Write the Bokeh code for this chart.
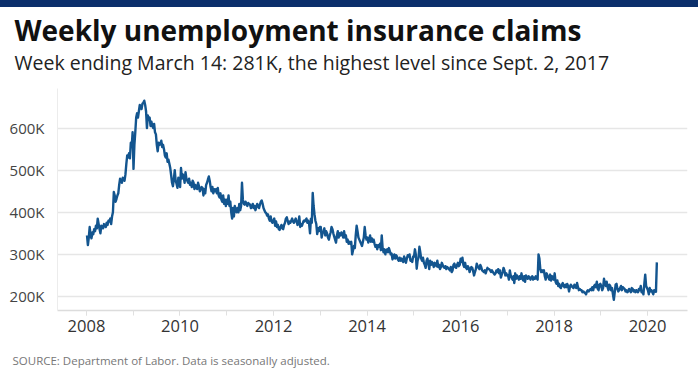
import pandas as pd
from bokeh.plotting import figure
from bokeh.models import FixedTicker, Title, Range1d
from bokeh.embed import file_html
from bokeh.resources import INLINE

# Weekly initial claims (thousands), week ending Saturday, from 2008-01-05
claims_2008 = [345, 322, 340, 365, 345, 338, 352, 348, 360, 355, 368, 362, 385,
               372, 360, 350, 368, 365, 362, 372, 368, 365, 375, 370, 380, 378,
               385, 372, 390, 400, 448, 440, 425, 432, 440, 445, 465, 480, 475,
               470, 482, 478, 475, 490, 515, 535, 530, 540, 528, 565, 555, 590]
claims_2009 = [503, 560, 590, 625, 635, 625, 640, 655, 652, 645, 658, 660, 665,
               655, 640, 600, 630, 620, 625, 605, 615, 605, 600, 610, 590, 585,
               560, 545, 565, 560, 562, 570, 555, 560, 550, 535, 530, 540, 520,
               525, 515, 505, 488, 470, 462, 478, 500, 475, 468, 458, 482, 470]
claims_2010 = [460, 505, 480, 490, 485, 470, 495, 480, 475, 470, 480, 465, 470,
               460, 475, 470, 455, 465, 460, 455, 470, 462, 450, 455, 460, 458,
               440, 455, 445, 465, 470, 478, 485, 475, 460, 450, 460, 445, 455,
               450, 455, 445, 458, 440, 435, 445, 430, 425, 440, 420, 430, 415]
claims_2011 = [430, 420, 440, 415, 425, 400, 385, 410, 390, 415, 405, 400, 410,
               400, 420, 405, 415, 470, 430, 420, 418, 425, 420, 415, 422, 420,
               418, 410, 412, 420, 410, 415, 405, 412, 420, 415, 410, 418, 425,
               428, 420, 410, 405, 400, 398, 392, 395, 385, 380, 390, 378, 375, 380]
claims_2012 = [385, 368, 378, 365, 370, 360, 358, 365, 370, 362, 360, 370, 375,
               385, 388, 380, 372, 378, 375, 380, 385, 378, 375, 380, 385, 378,
               370, 375, 390, 365, 372, 368, 375, 380, 378, 382, 385, 375, 380,
               372, 350, 385, 375, 446, 415, 395, 380, 372, 348, 362, 355, 365]
claims_2013 = [365, 340, 350, 355, 362, 345, 355, 350, 340, 335, 345, 352, 365,
               360, 350, 342, 335, 328, 345, 355, 340, 350, 345, 352, 348, 340,
               355, 340, 345, 330, 335, 325, 330, 325, 330, 300, 310, 320, 315,
               345, 368, 355, 340, 335, 330, 325, 320, 330, 340, 365, 345, 335]
claims_2014 = [340, 328, 335, 345, 330, 338, 330, 335, 325, 318, 322, 312, 322,
               318, 325, 310, 345, 315, 305, 312, 300, 310, 312, 305, 315, 308,
               300, 302, 288, 295, 300, 290, 298, 295, 288, 285, 292, 285, 290,
               285, 282, 295, 288, 280, 290, 298, 295, 300, 285, 288, 282, 295]
claims_2015 = [295, 312, 300, 266, 285, 292, 318, 305, 290, 285, 292, 280, 275,
               268, 285, 290, 278, 265, 285, 275, 282, 278, 270, 280, 275, 272,
               285, 270, 275, 265, 270, 280, 275, 270, 268, 272, 265, 270, 268,
               265, 262, 270, 258, 262, 275, 278, 270, 268, 275, 280, 272, 275]
claims_2016 = [290, 282, 292, 275, 270, 280, 268, 265, 272, 268, 258, 265, 270,
               268, 260, 250, 258, 265, 278, 272, 268, 265, 275, 270, 262, 260,
               258, 262, 255, 262, 268, 265, 265, 262, 258, 262, 258, 255, 252,
               255, 262, 258, 265, 255, 262, 245, 252, 258, 268, 262, 250, 255, 250]
claims_2017 = [250, 240, 262, 250, 245, 240, 248, 232, 255, 242, 250, 245, 240,
               248, 242, 255, 242, 238, 248, 235, 250, 245, 242, 248, 245, 240,
               245, 248, 240, 245, 242, 248, 243, 240, 300, 290, 265, 258, 262,
               258, 262, 248, 240, 255, 250, 245, 240, 252, 238, 248, 242, 240]
claims_2018 = [255, 235, 230, 238, 225, 230, 222, 220, 228, 232, 225, 222, 228,
               222, 230, 225, 212, 222, 228, 225, 222, 220, 228, 225, 220, 232,
               222, 215, 218, 215, 215, 210, 212, 210, 208, 205, 212, 215, 212,
               215, 218, 215, 222, 215, 225, 228, 222, 235, 218, 215, 228, 230]
claims_2019 = [225, 215, 220, 242, 232, 225, 235, 222, 215, 228, 225, 215, 220,
               205, 192, 210, 228, 230, 218, 212, 215, 220, 225, 215, 222, 220,
               218, 212, 215, 210, 212, 218, 215, 210, 220, 218, 212, 215, 210,
               215, 212, 210, 218, 215, 225, 210, 212, 205, 230, 252, 225, 220]
claims_2020 = [215, 205, 220, 212, 215, 210, 205, 215, 212, 211, 281]

claims = (claims_2008 + claims_2009 + claims_2010 + claims_2011 + claims_2012 +
          claims_2013 + claims_2014 + claims_2015 + claims_2016 + claims_2017 +
          claims_2018 + claims_2019 + claims_2020)

x_tick_years = [2008, 2010, 2012, 2014, 2016, 2018, 2020]
x_tick_labels = ["2008", "2010", "2012", "2014", "2016", "2018", "2020"]
y_tick_values = [200, 300, 400, 500, 600]
y_tick_labels = ["200K", "300K", "400K", "500K", "600K"]

title_text = "Weekly unemployment insurance claims"
subtitle_text = "Week ending March 14: 281K, the highest level since Sept. 2, 2017"
source_text = "SOURCE: Department of Labor. Data is seasonally adjusted."

dates = pd.date_range("2008-01-05", periods=len(claims), freq="7D")
xs = [d.year + (d.dayofyear - 1) / (366 if d.is_leap_year else 365) for d in dates]

FONT = "Open Sans"
NAVY = "#0b2f6b"

p = figure(width=698, height=385, output_backend="svg", toolbar_location=None,
           x_range=Range1d(2007.38, 2020.855), y_range=Range1d(166.7, 694),
           min_border_left=57, min_border_right=11, min_border_top=81,
           min_border_bottom=82)
# thin navy header stripe above the chart
p.styles = {"border-top": "7px solid %s" % NAVY}
p.outline_line_color = None
p.background_fill_color = "white"
p.border_fill_color = "white"

p.line(xs, claims, line_color="#13558f", line_width=2.4, line_join="round")

# x axis
xa = p.xaxis[0]
xa.ticker = FixedTicker(ticks=x_tick_years, minor_ticks=list(range(2008, 2021)))
xa.major_label_overrides = {y: l for y, l in zip(x_tick_years, x_tick_labels)}
xa.axis_line_color = "#dcdcdc"
xa.axis_line_width = 1.5
xa.major_tick_line_color = "#e0e0e0"
xa.minor_tick_line_color = "#e0e0e0"
xa.major_tick_in = 0
xa.major_tick_out = 5
xa.minor_tick_in = 0
xa.minor_tick_out = 5
xa.major_label_text_font = FONT
xa.major_label_text_font_size = "16.5px"
xa.major_label_text_color = "#333333"
xa.major_label_standoff = 4

# y axis
ya = p.yaxis[0]
ya.ticker = FixedTicker(ticks=y_tick_values, minor_ticks=[])
ya.major_label_overrides = {v: l for v, l in zip(y_tick_values, y_tick_labels)}
ya.axis_line_color = "#ececec"
ya.axis_line_width = 1
ya.major_tick_line_color = None
ya.minor_tick_line_color = None
ya.major_label_text_font = FONT
ya.major_label_text_font_size = "15px"
ya.major_label_text_color = "#444444"
ya.major_label_standoff = 7

p.xgrid.visible = False
p.ygrid.grid_line_color = "#e6e6e6"
p.ygrid.grid_line_width = 1.5

# headings: added nearest-to-plot first
p.add_layout(Title(text=subtitle_text, text_font=FONT, text_font_style="normal",
                   text_font_size="19.5px", text_color="#222222",
                   align="left", offset=-43, standoff=25), "above")
p.add_layout(Title(text=title_text, text_font=FONT, text_font_style="bold",
                   text_font_size="28px", text_color="#111111",
                   align="left", offset=-43, standoff=-28), "above")
p.add_layout(Title(text=source_text, text_font=FONT, text_font_style="normal",
                   text_font_size="11.5px", text_color="#777777",
                   align="left", offset=-45, standoff=32), "below")

open("out.html", "w").write(file_html(p, INLINE))
